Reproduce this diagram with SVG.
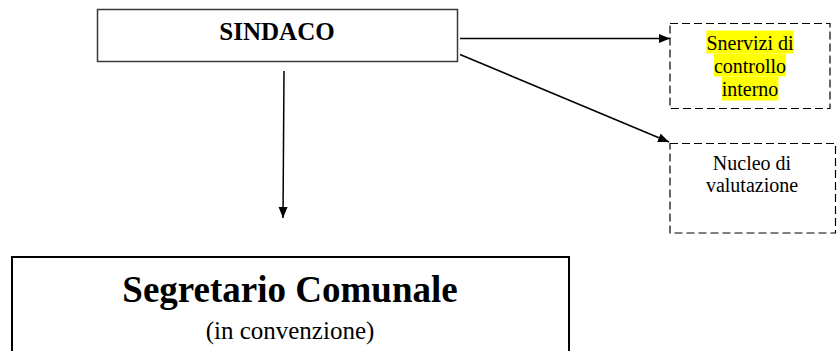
<svg xmlns="http://www.w3.org/2000/svg" width="837" height="351" viewBox="0 0 837 351">
<style>
.solid{fill:#fff;stroke:#3a3a3a;stroke-width:1.5}
.main{fill:#fff;stroke:#000;stroke-width:2}
.dash{fill:#fff;stroke:#000;stroke-width:1.2;stroke-dasharray:8 4}
.conn{stroke:#000;stroke-width:1.5;fill:none}
.t{font-family:"Liberation Serif","Times New Roman",serif;fill:#000;text-anchor:middle}
.hl{fill:#ffff00}
</style>
<defs>
<marker id="ah" markerUnits="userSpaceOnUse" markerWidth="12" markerHeight="10" refX="11" refY="4.5" orient="auto">
<path d="M0,0 L11,4.5 L0,9 z" fill="#000"/>
</marker>
</defs>
<rect width="837" height="351" fill="#fff"/>
<g id="sindaco">
<rect class="solid" x="97.5" y="9.5" width="360" height="52"/>
<text class="t" x="277" y="40" font-size="25" font-weight="bold">SINDACO</text>
</g>
<g id="servizi">
<rect class="dash" x="670" y="23.5" width="160" height="85"/>
<rect class="hl" x="706.4" y="30.5" width="87.2" height="23"/>
<rect class="hl" x="713.9" y="53.5" width="72.2" height="23"/>
<rect class="hl" x="721.7" y="76.5" width="56.7" height="24"/>
<text class="t" x="750" y="49.5" font-size="20">Snervizi di</text>
<text class="t" x="750" y="72.5" font-size="20">controllo</text>
<text class="t" x="750" y="95.5" font-size="20">interno</text>
</g>
<g id="nucleo">
<rect class="dash" x="670" y="143.5" width="165.5" height="89.5"/>
<text class="t" x="752" y="170" font-size="20">Nucleo di</text>
<text class="t" x="752" y="192" font-size="20">valutazione</text>
</g>
<g id="segretario">
<rect class="main" x="12" y="257" width="557" height="110"/>
<text class="t" x="290" y="302" font-size="37" font-weight="bold">Segretario Comunale</text>
<text class="t" x="290" y="339" font-size="25">(in convenzione)</text>
</g>
<g id="connectors">
<line class="conn" x1="460" y1="38.5" x2="670" y2="38.5" marker-end="url(#ah)"/>
<line class="conn" x1="460" y1="54.5" x2="669" y2="142" marker-end="url(#ah)"/>
<line class="conn" x1="284" y1="71" x2="283" y2="218" marker-end="url(#ah)"/>
</g>
</svg>
